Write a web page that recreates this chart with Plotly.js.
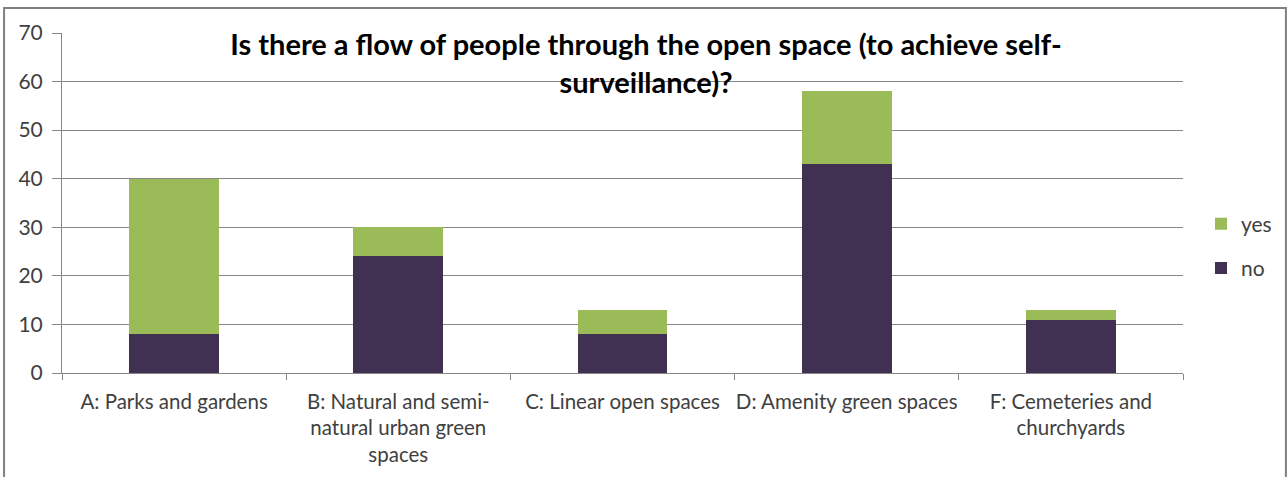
<!DOCTYPE html>
<html>
<head>
<meta charset="utf-8">
<script src="https://cdn.plot.ly/plotly-3.0.1.min.js"></script>
<style>
html,body{margin:0;padding:0;background:#fff;}
#chart{width:1288px;height:477px;}
</style>
</head>
<body>
<div id="chart"></div>
<script>
const categories = [
  "A: Parks and gardens",
  "B: Natural and semi-<br>natural urban green<br>spaces",
  "C: Linear open spaces",
  "D: Amenity green spaces",
  "F: Cemeteries and<br>churchyards"
];
const noValues = [8, 24, 8, 43, 11];
const yesValues = [32, 6, 5, 15, 2];
const seriesNames = ["no", "yes"];
const yTicks = [0, 10, 20, 30, 40, 50, 60, 70];
const titleText = "Is there a flow of people through the open space (to achieve self-<br>surveillance)?";

const FONT = "Lato, 'Liberation Sans', sans-serif";
const GRID = "#868686";

const traces = [
  {type: "bar", name: seriesNames[0], x: categories, y: noValues,
   marker: {color: "#403152", line: {width: 0}}, legendgroup: "g1", legendrank: 2, hoverinfo: "y"},
  {type: "bar", name: seriesNames[1], x: categories, y: yesValues,
   marker: {color: "#9BBB59", line: {width: 0}}, legendgroup: "g2", legendrank: 1, hoverinfo: "y"}
];

const L = 62, R = 1184, T = 33, B = 373, W = 1288, H = 477;
const pw = R - L, ph = B - T;
const px = v => (v - L) / pw;
const py = v => (B - v) / ph;

const layout = {
  width: W, height: H,
  margin: {l: L, r: W - R, t: T, b: H - B, pad: 0},
  paper_bgcolor: "#ffffff",
  plot_bgcolor: "#ffffff",
  barmode: "stack",
  bargap: 0.6,
  font: {family: FONT, size: 20, color: "#404040"},
  title: {
    text: titleText,
    font: {family: FONT, size: 29, color: "#000000", weight: "bold"},
    xref: "container", x: 646 / W, xanchor: "center",
    yref: "container", y: 1 - 55 / H, yanchor: "top"
  },
  xaxis: {
    type: "category",
    showgrid: false,
    showline: true, linecolor: GRID, linewidth: 1,
    ticks: "outside", tickson: "boundaries", ticklen: 6, tickcolor: GRID, tickwidth: 1,
    tickangle: 0,
    tickfont: {family: FONT, size: 20.5, color: "#404040"},
    ticklabelstandoff: 10,
    fixedrange: true
  },
  yaxis: {
    range: [0, 70],
    tickvals: yTicks,
    ticktext: yTicks.map(String),
    showgrid: true, gridcolor: GRID, gridwidth: 1,
    zeroline: false,
    showline: true, linecolor: GRID, linewidth: 1,
    ticks: "outside", ticklen: 9, tickcolor: GRID, tickwidth: 1,
    tickfont: {family: FONT, size: 21, color: "#404040"},
    ticklabelstandoff: 5,
    fixedrange: true
  },
  legend: {
    x: px(1201), xanchor: "left",
    y: py(246), yanchor: "middle",
    traceorder: "grouped",
    tracegroupgap: 14,
    font: {family: FONT, size: 21, color: "#404040"},
    bgcolor: "rgba(0,0,0,0)",
    borderwidth: 0
  },
  shapes: [
    {type: "rect", xref: "paper", yref: "paper",
     x0: px(4), x1: px(1287), y0: py(490), y1: py(8),
     line: {color: "#808080", width: 2}, fillcolor: "rgba(0,0,0,0)", layer: "below"}
  ],
  showlegend: true
};

Plotly.newPlot("chart", traces, layout, {displayModeBar: false, staticPlot: true});
</script>
</body>
</html>
